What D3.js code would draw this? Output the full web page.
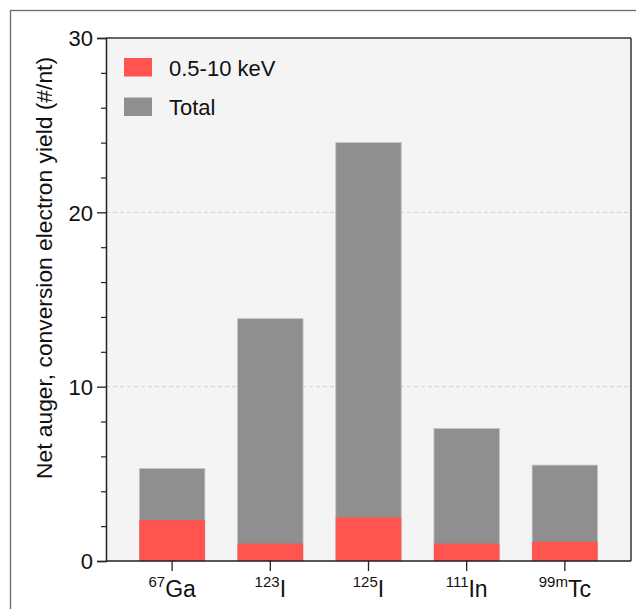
<!DOCTYPE html>
<html>
<head>
<meta charset="utf-8">
<script src="https://cdn.jsdelivr.net/npm/d3@7"></script>
<style>
  body { margin: 0; background: #fff; }
  svg { display: block; font-family: "Liberation Sans", Arial, sans-serif; }
</style>
</head>
<body>
<svg width="636" height="609"></svg>
<script>
// isotopes on the x axis (mass number + element)
const massNumbers = ["67", "123", "125", "111", "99m"]
const elements = ["Ga", "I", "I", "In", "Tc"]
const lowEnergy = [2.35, 1.0, 2.5, 1.0, 1.1]   // 0.5-10 keV
const total = [5.3, 13.9, 24.0, 7.6, 5.5]
const yTicks = [0, 10, 20, 30]
const legendLabels = ["0.5-10 keV", "Total"]

const red = "#ff5450"
const grey = "#8f8f8f"

const svg = d3.select("svg")

// outer frame
svg.append("rect")
    .attr("x", 10.5).attr("y", 10.5)
    .attr("width", 700).attr("height", 700)
    .attr("fill", "#fff")
    .attr("stroke", "#6b6b6b")
    .attr("stroke-width", 1.3)

let plotLeft = 106, plotRight = 631, plotTop = 38, plotBottom = 561

const x = d3.scaleBand()
    .domain(d3.range(massNumbers.length))
    .range([plotLeft, plotRight])
    .paddingInner(0.333)
    .paddingOuter(0.34)

const y = d3.scaleLinear()
    .domain([0, 30])
    .range([plotBottom, plotTop])

// plot background
svg.append("rect")
    .attr("x", plotLeft).attr("y", plotTop)
    .attr("width", plotRight - plotLeft).attr("height", plotBottom - plotTop)
    .attr("fill", "#f4f4f4")

// dashed grid
svg.append("g")
    .selectAll("line")
    .data([10, 20])
    .join("line")
    .attr("x1", plotLeft).attr("x2", plotRight)
    .attr("y1", d => y(d)).attr("y2", d => y(d))
    .attr("stroke", "#d2d2d2")
    .attr("stroke-dasharray", "4,3")

// bars: total behind, low energy in front
svg.append("g")
    .selectAll("rect")
    .data(total)
    .join("rect")
    .attr("x", (d, i) => x(i))
    .attr("width", x.bandwidth())
    .attr("y", d => y(d))
    .attr("height", d => y(0) - y(d))
    .attr("fill", grey)
    .attr("stroke", "#c4c4c4")
    .attr("stroke-width", 0.8)

svg.append("g")
    .selectAll("rect")
    .data(lowEnergy)
    .join("rect")
    .attr("x", (d, i) => x(i))
    .attr("width", x.bandwidth())
    .attr("y", d => y(d))
    .attr("height", d => y(0) - y(d))
    .attr("fill", red)

// top and right border of plot
svg.append("line")
    .attr("x1", plotLeft).attr("x2", plotRight)
    .attr("y1", plotTop).attr("y2", plotTop)
    .attr("stroke", "#666").attr("stroke-width", 2)
svg.append("line")
    .attr("x1", plotRight).attr("x2", plotRight)
    .attr("y1", plotTop).attr("y2", plotBottom)
    .attr("stroke", "#333").attr("stroke-width", 1.5)

// y axis with minor ticks
const yAxis = svg.append("g")
    .attr("transform", `translate(${plotLeft},0)`)
    .call(d3.axisLeft(y).tickValues(yTicks).tickSize(9).tickPadding(4))
yAxis.select(".domain").attr("stroke", "#222").attr("stroke-width", 1.5)
yAxis.selectAll(".tick line").attr("stroke", "#222").attr("stroke-width", 1.3)
yAxis.selectAll(".tick text")
    .attr("font-size", 22).attr("fill", "#111")
    .attr("font-family", "Liberation Sans, Arial, sans-serif")
    .attr("dy", "0.36em")

svg.append("g")
    .attr("transform", `translate(${plotLeft},0)`)
    .call(d3.axisLeft(y).tickValues(d3.range(2, 30, 2).filter(d => d % 10 !== 0)).tickSize(5).tickFormat(""))
    .call(g => g.select(".domain").remove())
    .selectAll(".tick line").attr("stroke", "#222").attr("stroke-width", 1.2)

// x axis
const xAxis = svg.append("g")
    .attr("transform", `translate(0,${plotBottom})`)
    .call(d3.axisBottom(x).tickSize(10).tickFormat(""))
xAxis.select(".domain").attr("d", `M${plotLeft},0H${plotRight}`)
    .attr("stroke", "#222").attr("stroke-width", 1.5)
xAxis.selectAll(".tick line").attr("stroke", "#222").attr("stroke-width", 1.3)

// isotope labels with superscript mass numbers
const labels = svg.append("g")
    .selectAll("text")
    .data(massNumbers)
    .join("text")
    .attr("x", (d, i) => x(i) + x.bandwidth() / 2)
    .attr("y", 597)
    .attr("text-anchor", "middle")
    .attr("fill", "#111")
labels.append("tspan")
    .attr("font-size", 15)
    .attr("dy", -10)
    .text(d => d)
labels.append("tspan")
    .attr("font-size", 23)
    .attr("dy", 10)
    .text((d, i) => elements[i])

// y axis title
svg.append("text")
    .attr("transform", "translate(52,268) rotate(-90)")
    .attr("text-anchor", "middle")
    .attr("font-size", 22.8)
    .attr("fill", "#111")
    .text("Net auger, conversion electron yield (#/nt)")

// legend
const legend = svg.append("g")
    .selectAll("g")
    .data(legendLabels)
    .join("g")
    .attr("transform", (d, i) => `translate(124,${58 + i * 39.5})`)
legend.append("rect")
    .attr("width", 28).attr("height", 18.5)
    .attr("fill", (d, i) => i === 0 ? red : grey)
legend.append("text")
    .attr("x", 45).attr("y", 17.5)
    .attr("font-size", 22)
    .attr("fill", "#111")
    .text(d => d)
</script>
</body>
</html>
